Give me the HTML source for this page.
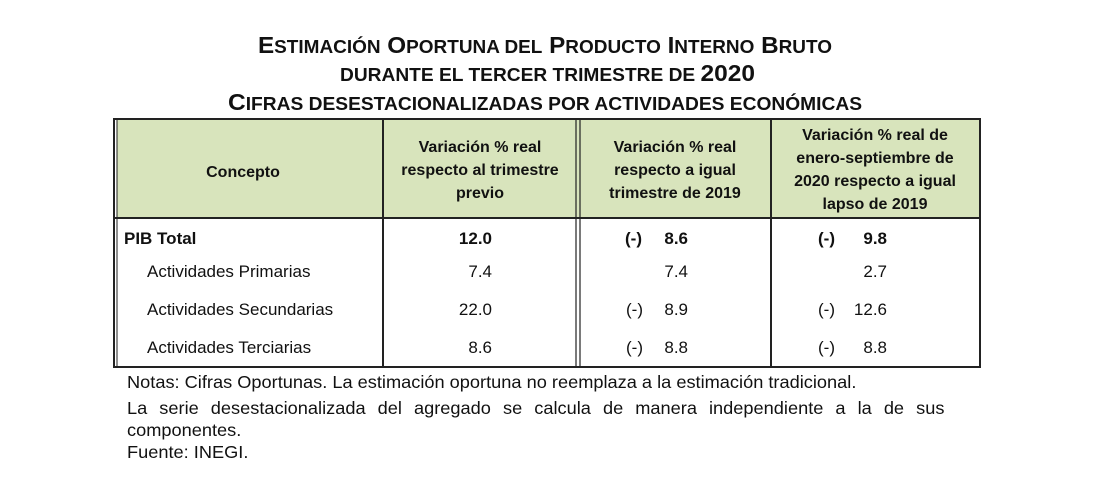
<!DOCTYPE html>
<html><head><meta charset="utf-8"><style>
html,body{margin:0;padding:0;background:#fff;}
svg{display:block;position:absolute;left:0;top:0;}
text{font-family:"Liberation Sans",Arial,sans-serif;fill:#111;}
.notes{position:absolute;left:127px;top:371px;width:786px;transform:scaleX(1.04);transform-origin:0 0;font-family:"Liberation Sans",Arial,sans-serif;font-size:17.5px;color:#111;}
.notes div{height:22px;line-height:22px;white-space:nowrap;}
.notes .j{text-align:justify;text-align-last:justify;white-space:normal;}
</style></head><body>
<svg width="1120" height="500" viewBox="0 0 1120 500" xmlns="http://www.w3.org/2000/svg">
<rect width="1120" height="500" fill="#fff"/>
<g font-weight="bold">
<text x="258" y="53" font-size="23" textLength="574" lengthAdjust="spacingAndGlyphs">E<tspan font-size="18">STIMACIÓN</tspan> O<tspan font-size="18">PORTUNA DEL</tspan> P<tspan font-size="18">RODUCTO</tspan> I<tspan font-size="18">NTERNO</tspan> B<tspan font-size="18">RUTO</tspan></text>
<text x="340" y="81" font-size="18" textLength="415" lengthAdjust="spacingAndGlyphs">DURANTE EL TERCER TRIMESTRE DE <tspan font-size="23">2020</tspan></text>
<text x="228" y="110" font-size="23" textLength="634" lengthAdjust="spacingAndGlyphs">C<tspan font-size="18">IFRAS DESESTACIONALIZADAS POR ACTIVIDADES ECONÓMICAS</tspan></text>
</g>
<rect x="117" y="120" width="862" height="97" fill="#d8e4bc"/>
<g stroke="#222" fill="none">
<rect x="114" y="119" width="866" height="248" stroke-width="2"/>
<line x1="117" y1="120" x2="117" y2="366" stroke-width="1"/>
<line x1="114" y1="218" x2="980" y2="218" stroke-width="2"/>
<line x1="383" y1="119" x2="383" y2="367" stroke-width="2"/>
<line x1="576" y1="119" x2="576" y2="367" stroke-width="1.2"/>
<line x1="580" y1="119" x2="580" y2="367" stroke-width="1.2"/>
<line x1="771" y1="119" x2="771" y2="367" stroke-width="2"/>
</g>
<g font-weight="bold" font-size="16" text-anchor="middle" fill="#222">
<text x="243" y="177">Concepto</text>
<text x="480" y="152">Variación % real</text>
<text x="480" y="175">respecto al trimestre</text>
<text x="480" y="198">previo</text>
<text x="675" y="152">Variación % real</text>
<text x="675" y="175">respecto a igual</text>
<text x="675" y="198">trimestre de 2019</text>
<text x="875" y="140">Variación % real de</text>
<text x="875" y="163">enero-septiembre de</text>
<text x="875" y="186">2020 respecto a igual</text>
<text x="875" y="209">lapso de 2019</text>
</g>
<g font-size="17">
<text x="124" y="244" font-weight="bold">PIB Total</text>
<text x="147" y="277">Actividades Primarias</text>
<text x="147" y="315">Actividades Secundarias</text>
<text x="147" y="353">Actividades Terciarias</text>
<g text-anchor="end">
<text x="492" y="244" font-weight="bold">12.0</text>
<text x="492" y="277">7.4</text>
<text x="492" y="315">22.0</text>
<text x="492" y="353">8.6</text>
<text x="688" y="244" font-weight="bold">8.6</text>
<text x="688" y="277">7.4</text>
<text x="688" y="315">8.9</text>
<text x="688" y="353">8.8</text>
<text x="887" y="244" font-weight="bold">9.8</text>
<text x="887" y="277">2.7</text>
<text x="887" y="315">12.6</text>
<text x="887" y="353">8.8</text>
</g>
<text x="625" y="244" font-weight="bold">(-)</text>
<text x="626" y="315">(-)</text>
<text x="626" y="353">(-)</text>
<text x="818" y="244" font-weight="bold">(-)</text>
<text x="818" y="315">(-)</text>
<text x="818" y="353">(-)</text>
</g>
</svg>
<div class="notes">
<div style="margin-bottom:4px">Notas: Cifras Oportunas. La estimación oportuna no reemplaza a la estimación tradicional.</div>
<div class="j">La serie desestacionalizada del agregado se calcula de manera independiente a la de sus</div>
<div>componentes.</div>
<div>Fuente: INEGI.</div>
</div>
</body></html>
